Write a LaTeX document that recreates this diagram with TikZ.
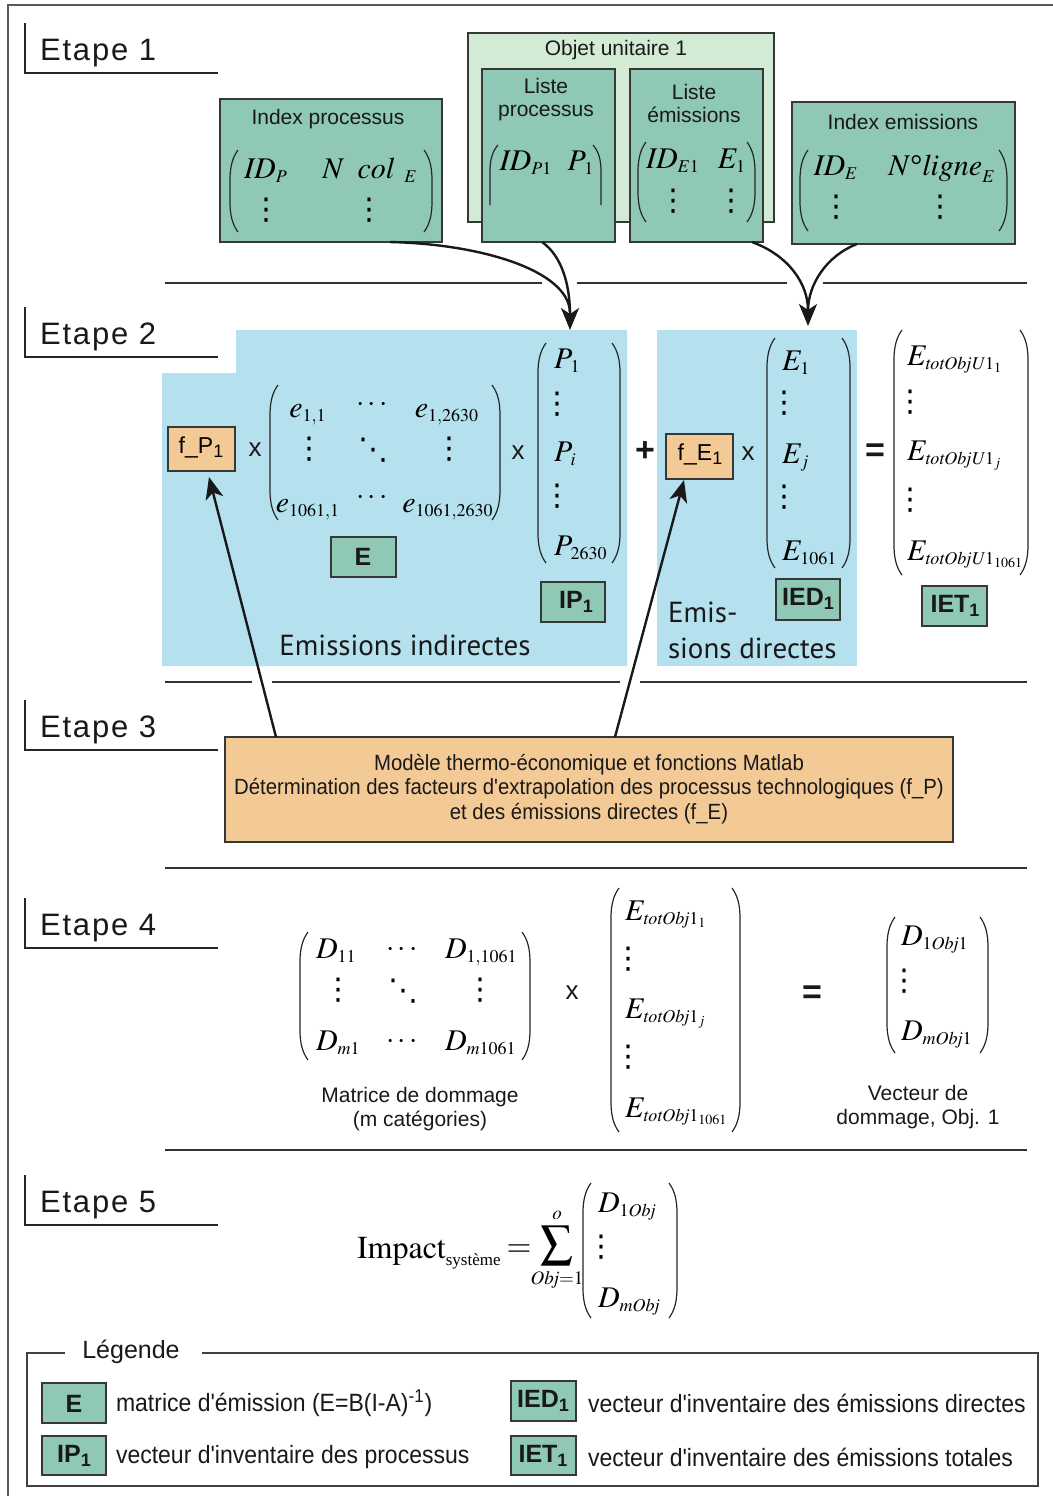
\documentclass[tikz,border=0pt]{standalone}
\usepackage{mathptmx}
\usepackage[no-math]{fontspec}
\setmainfont{Liberation Sans}
\newfontfamily\myriad{PT Sans}
\newfontfamily\tms{Liberation Serif}
\newfontfamily\djv{DejaVu Sans}
\newfontfamily\narrowsf[FakeStretch=0.925]{Liberation Sans}
\newfontfamily\legsf[FakeStretch=0.92]{Liberation Sans}
\DeclareMathSizes{15}{15}{9}{7}
\DeclareMathSizes{16}{16}{9.5}{7}
\usetikzlibrary{arrows.meta}
\definecolor{tealfill}{RGB}{143,200,180}
\definecolor{lgreen}{RGB}{211,235,213}
\definecolor{bluefill}{RGB}{180,225,237}
\definecolor{orangefill}{RGB}{243,202,149}
\definecolor{bordergray}{RGB}{55,55,55}
\newcommand{\lsub}[1]{\raisebox{-0.35ex}{\fontsize{9}{9}\selectfont #1}}
\newcommand{\vd}{{\djv ⋮}}
\newcommand{\dd}{{\djv ⋱}}
\newcommand{\plp}[3]{\draw[parenline] ({#1+8},#2) .. controls ({#1+2},{#2+8}) and (#1,{#2+18}) .. (#1,{#2+30}) -- (#1,{#3-30}) .. controls (#1,{#3-18}) and ({#1+2},{#3-8}) .. ({#1+8},#3);}
\newcommand{\prp}[3]{\draw[parenline] ({#1-8},#2) .. controls ({#1-2},{#2+8}) and (#1,{#2+18}) .. (#1,{#2+30}) -- (#1,{#3-30}) .. controls (#1,{#3-18}) and ({#1-2},{#3-8}) .. ({#1-8},#3);}
\newcommand{\etape}[3]{\draw[hdline] (25,#3) -- (25,{#3+50}) -- (218,{#3+50});
\node[etapetxt, anchor=base west] (#1) at (40,{#3+37}) {Etape #2};}
\newcommand{\bx}[6]{\node[#2, anchor=north west, minimum width={(#5-#3)*0.5pt}, minimum height={(#6-#4)*0.5pt}] (#1) at (#3,#4) {};}
\tikzset{
  every node/.style={inner sep=0pt, outer sep=0pt},
  parenline/.style={line width=0.6pt, black!85},
  hdline/.style={line width=1pt, black!85},
  sepline/.style={line width=0.6pt, black!80},
  etapetxt/.style={font=\fontsize{15.5}{18}\selectfont\addfontfeature{LetterSpace=6}, text=black!90},
  tealbox/.style={draw=bordergray, fill=tealfill, line width=0.6pt},
  greenbox/.style={draw=bordergray, fill=lgreen, line width=0.6pt},
  orangebox/.style={draw=bordergray, fill=orangefill, line width=0.6pt},
  boxtitle/.style={font=\fontsize{10.5}{11.5}\selectfont, align=center, text=black!90},
  mth/.style={font=\fontsize{15}{18}\selectfont},
  dts/.style={font=\fontsize{15}{18}\selectfont},
  lbl/.style={font=\fontsize{12.5}{14}\selectfont\bfseries, text=black!90},
  op/.style={font=\fontsize{13}{14}\selectfont, text=black!90},
  bop/.style={font=\fontsize{17}{18}\selectfont\bfseries, text=black!90},
  arr/.style={line width=1.2pt, black!90, -{Stealth[length=11pt,width=9pt,inset=3pt]}},
  curv/.style={line width=1.2pt, black!90},
  legtxt/.style={font=\legsf\fontsize{12.5}{14}\selectfont, text=black!90, anchor=west},
  bigsf/.style={font=\myriad\fontsize{14.5}{18}\selectfont, text=black!90},
}
\begin{document}
\begin{tikzpicture}[x=0.5pt,y=-0.5pt]
\useasboundingbox (0,0) rectangle (1053,1496);
% outer frame
\draw[line width=0.8pt, black!65] (8,1496) -- (8,5) -- (1053,5);
% blue regions
\fill[bluefill] (162,373) -- (236,373) -- (236,330) -- (627,330) -- (627,666) -- (162,666) -- cycle;
\fill[bluefill] (657,330) rectangle (857,666);
% headings
\etape{et1}{1}{23}
\etape{et2}{2}{307}
\etape{et3}{3}{700}
\etape{et4}{4}{898}
\etape{et5}{5}{1175}
% separators
\draw[sepline] (165,283) -- (542,283);
\draw[sepline] (577,283) -- (787,283);
\draw[sepline] (823,283) -- (1027,283);
\draw[sepline] (165,682) -- (252,682);
\draw[sepline] (272,682) -- (620,682);
\draw[sepline] (640,682) -- (1027,682);
\draw[sepline] (165,868) -- (1027,868);
\draw[sepline] (165,1150) -- (1027,1150);

% ===== Etape 1 =====
\bx{objet}{greenbox}{468}{33}{774}{222}
\node[boxtitle] (objt) at (616,50) {Objet unitaire 1};
\bx{ipx}{tealbox}{220}{99}{442}{242}
\node[boxtitle] (ipxt) at (328,119) {Index processus};
\plp{230}{150}{232} \prp{432}{150}{232}
\node[mth,anchor=base] (ipa) at (266,178) {$\mathit{ID}_P$};
\node[mth,anchor=base] (ipb) at (370,178) {$N\;\;\mathit{col}\;\,_E$};
\node[dts] (ipc) at (266,210) {\vd};
\node[dts] (ipd) at (369,210) {\vd};

\bx{lp}{tealbox}{482}{69}{615}{242}
\node[boxtitle] (lpt) at (546,100) {Liste\\processus};
\draw[parenline] (498,145) .. controls (492,152) and (490,160) .. (490,172) -- (490,205);
\draw[parenline] (593,145) .. controls (599,152) and (601,160) .. (601,172) -- (601,205);
\node[mth,anchor=base] (lpa) at (526,170) {$\mathit{ID}_{P1}$};
\node[mth,anchor=base] (lpb) at (581,170) {$P_{\kern1pt 1}$};

\bx{le}{tealbox}{630}{69}{763}{242}
\node[boxtitle] (let) at (694,103) {Liste\\émissions};
\plp{638}{142}{222} \prp{755}{142}{222}
\node[mth,anchor=base] (lea) at (673,168) {$\mathit{ID}_{E1}$};
\node[mth,anchor=base] (leb) at (732,168) {$E_1$};
\node[dts] (lec) at (673,201) {\vd};
\node[dts] (led) at (731,201) {\vd};

\bx{ie}{tealbox}{792}{102}{1015}{244}
\node[boxtitle] (iet) at (903,122) {Index emissions};
\plp{800}{150}{231} \prp{1007}{150}{231}
\node[mth,anchor=base] (iea) at (836,175) {$\mathit{ID}_E$};
\node[mth,anchor=base] (ieb) at (942,175) {$N\mbox{\tms °}\mathit{ligne}_E$};
\node[dts] (iec) at (836,207) {\vd};
\node[dts] (ied) at (940,207) {\vd};

% curved arrows etape 1 -> 2
\coordinate (c1) at (390,242);
\coordinate (c2) at (542,242);
\coordinate (t1) at (570,330);
\coordinate (c3) at (752,242);
\coordinate (c4) at (857,244);
\coordinate (t2) at (808,326);
\draw[curv] (c1) .. controls (480,244) and (568,270) .. (570,312);
\draw[arr] (c2) .. controls (562,256) and (570,285) .. (t1);
\draw[curv] (c3) .. controls (790,256) and (808,285) .. (808,310);
\draw[arr] (c4) .. controls (826,256) and (808,285) .. (t2);

% ===== Etape 2 =====
\bx{fp}{orangebox}{168}{427}{235}{471}
\node[font=\fontsize{11.5}{13}\selectfont] (fpt) at (201,447) {f\_P\lsub{1}};
\node[op] (x1) at (255,450) {x};
\plp{270}{385}{520} \prp{500}{385}{520}
\node[mth,anchor=base] (e11) at (308,417) {$e_{1,1}$};
\node[mth] (e12) at (372,405) {$\cdots$};
\node[mth,anchor=base] (e13) at (447,417) {$e_{1,2630}$};
\node[dts] (e21) at (309,449) {\vd};
\node[dts] (e22) at (373,450) {\dd};
\node[dts] (e23) at (449,449) {\vd};
\node[mth,anchor=base] (e31) at (308,512) {$e_{1061,1}$};
\node[mth] (e32) at (372,498) {$\cdots$};
\node[mth,anchor=base] (e33) at (448,512) {$e_{1061,2630}$};
\bx{eb}{tealbox}{331}{537}{396}{577}
\node[lbl] (ebt) at (363,557) {E};
\node[op] (x2) at (518,453) {x};
\plp{538}{343}{563} \prp{620}{343}{563}
\node[mth,anchor=base west] (p1) at (554,368) {$P_{\kern1pt 1}$};
\node[dts] (p2) at (557,404) {\vd};
\node[mth,anchor=base west] (p3) at (554,461) {$P_{\kern1pt i}$};
\node[dts] (p4) at (557,496) {\vd};
\node[mth,anchor=base west] (p5) at (554,555) {$P_{\kern1pt 2630}$};
\bx{ipb1}{tealbox}{541}{582}{605}{622}
\node[lbl] (ipbt) at (576,602) {IP\lsub{1}};
\node[bigsf] (emi) at (405,645) {Emissions indirectes};

\node[bop] (plus) at (645,452) {+};
\bx{fe}{orangebox}{666}{434}{733}{479}
\node[font=\fontsize{11.5}{13}\selectfont] (fet) at (700,454) {f\_E\lsub{1}};
\node[op] (x3) at (748,454) {x};
\plp{767}{338}{568} \prp{850}{338}{568}
\node[mth,anchor=base west] (E1) at (782,370) {$E_1$};
\node[dts] (E2) at (784,403) {\vd};
\node[mth,anchor=base west] (E3) at (782,463) {$E_j$};
\node[dts] (E4) at (784,497) {\vd};
\node[mth,anchor=base west] (E5) at (782,560) {$E_{1061}$};
\bx{iedb}{tealbox}{776}{579}{840}{620}
\node[lbl] (iedt) at (808,599) {IED\lsub{1}};
\node[bigsf, anchor=base west] (emd1) at (668,622) {Emis-};
\node[bigsf, anchor=base west] (emd2) at (668,658) {sions directes};

\node[bop] (eq1) at (875,453) {=};
\plp{894}{330}{575} \prp{1028}{330}{575}
\node[mth,anchor=base west] (T1) at (907,365) {$E_{\mathit{totObjU}1_1}$};
\node[dts] (T2) at (910,402) {\vd};
\node[mth,anchor=base west] (T3) at (907,460) {$E_{\mathit{totObjU}1_j}$};
\node[dts] (T4) at (910,500) {\vd};
\node[mth,anchor=base west] (T5) at (907,560) {$E_{\mathit{totObjU}1_{1061}}$};
\bx{ietb}{tealbox}{922}{586}{987}{626}
\node[lbl] (ietbt) at (955,606) {IET\lsub{1}};

% ===== Etape 3 =====
\bx{e3}{orangebox}{225}{737}{953}{842}
\node[font=\narrowsf\fontsize{11}{12.3}\selectfont, align=center, text=black!90] (e3t) at (589,789) {Modèle thermo-économique et fonctions Matlab\\Détermination des facteurs d'extrapolation des processus technologiques (f\_P)\\et des émissions directes (f\_E)};
\coordinate (a1s) at (276,737);
\coordinate (a1e) at (209,477);
\coordinate (a2s) at (615,737);
\coordinate (a2e) at (684,480);
\draw[arr] (a1s) -- (a1e);
\draw[arr] (a2s) -- (a2e);

% ===== Etape 4 =====
\plp{300}{932}{1060} \prp{530}{932}{1060}
\node[mth,anchor=base west] (d11) at (316,958) {$D_{11}$};
\node[mth] (d12) at (402,950) {$\cdots$};
\node[mth,anchor=base west] (d13) at (445,958) {$D_{1,1061}$};
\node[dts] (d21) at (338,990) {\vd};
\node[dts] (d22) at (403,991) {\dd};
\node[dts] (d23) at (480,990) {\vd};
\node[mth,anchor=base west] (d31) at (316,1050) {$D_{m1}$};
\node[mth] (d32) at (402,1042) {$\cdots$};
\node[mth,anchor=base west] (d33) at (445,1050) {$D_{m1061}$};
\node[boxtitle, font=\fontsize{10.5}{12}\selectfont] (mdd) at (420,1109) {Matrice de dommage\\(m catégories)};
\node[op] (x4) at (572,993) {x};
\plp{611}{888}{1132} \prp{740}{888}{1132}
\node[mth,anchor=base west] (F1) at (625,920) {$E_{\mathit{totObj}1_1}$};
\node[dts] (F2) at (628,959) {\vd};
\node[mth,anchor=base west] (F3) at (625,1018) {$E_{\mathit{totObj}1_j}$};
\node[dts] (F4) at (628,1057) {\vd};
\node[mth,anchor=base west] (F5) at (625,1117) {$E_{\mathit{totObj}1_{1061}}$};
\node[bop] (eq2) at (812,995) {=};
\plp{887}{917}{1053} \prp{988}{917}{1053}
\node[mth,anchor=base west] (G1) at (901,945) {$D_{1\mathit{Obj}1}$};
\node[dts] (G2) at (904,981) {\vd};
\node[mth,anchor=base west] (G3) at (901,1040) {$D_{m\mathit{Obj}1}$};
\node[boxtitle, font=\fontsize{10.5}{12}\selectfont] (vdd) at (918,1107) {Vecteur de\\dommage, Obj. 1};

% ===== Etape 5 =====
\node[font=\fontsize{16}{18}\selectfont, anchor=base west] (imp) at (357,1258) {$\mathrm{Impact}_{\mbox{\tms\fontsize{8.5}{10}\selectfont système}}$};
\node[font=\fontsize{16}{18}\selectfont] (eq3) at (519,1251) {$=$};
\node[font=\fontsize{16}{18}\selectfont] (sum) at (557,1250) {$\displaystyle\sum_{\mathit{Obj}=1}^{o}$};
\plp{583}{1183}{1318} \prp{677}{1183}{1318}
\node[mth,anchor=base west] (H1) at (598,1212) {$D_{1\mathit{Obj}}$};
\node[dts] (H2) at (601,1247) {\vd};
\node[mth,anchor=base west] (H3) at (598,1307) {$D_{m\mathit{Obj}}$};

% ===== Legend =====
\draw[line width=0.6pt, black!75] (65,1353) -- (27,1353) -- (27,1486) -- (1038,1486) -- (1038,1353) -- (202,1353);
\node[font=\fontsize{12.5}{14}\selectfont, text=black!90] (leg) at (131,1352) {Légende};
\bx{lE}{tealbox}{42}{1383}{106}{1423}
\node[lbl] (lEt) at (74,1404) {E};
\bx{lIP}{tealbox}{42}{1436}{106}{1475}
\node[lbl] (lIPt) at (74,1456) {IP\lsub{1}};
\bx{lIED}{tealbox}{511}{1381}{576}{1421}
\node[lbl] (lIEDt) at (543,1401) {IED\lsub{1}};
\bx{lIET}{tealbox}{511}{1436}{576}{1475}
\node[lbl] (lIETt) at (543,1456) {IET\lsub{1}};
\node[legtxt] (l1) at (116,1403) {matrice d'émission (E=B(I-A)\textsuperscript{-1})};
\node[legtxt] (l2) at (116,1457) {vecteur d'inventaire des processus};
\node[legtxt] (l3) at (588,1403) {vecteur d'inventaire des émissions directes};
\node[legtxt] (l4) at (588,1457) {vecteur d'inventaire des émissions totales};
\end{tikzpicture}
\end{document}
